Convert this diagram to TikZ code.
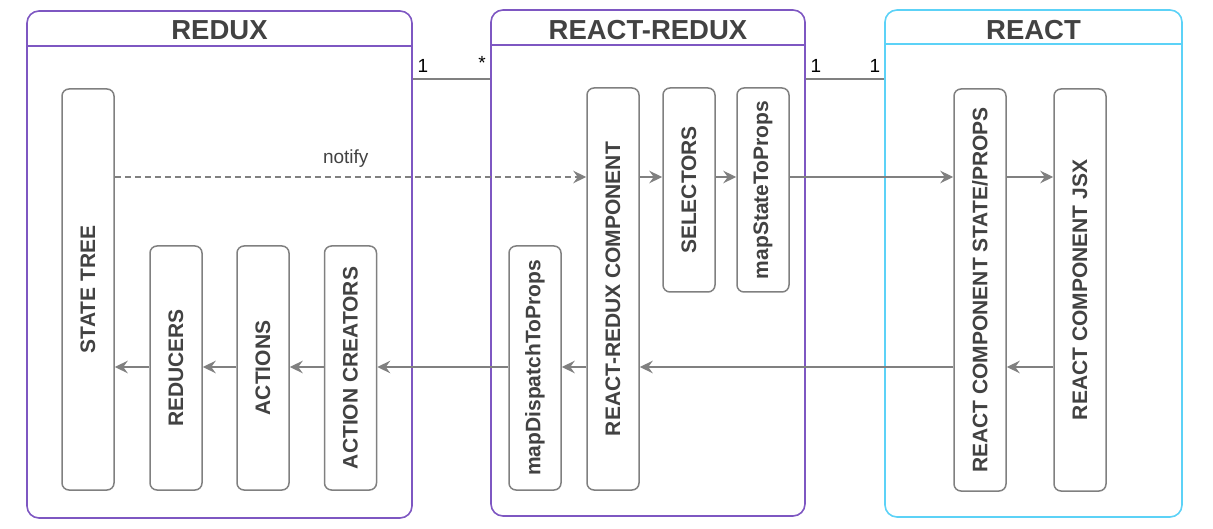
\documentclass[tikz,border=0pt]{standalone}
\usepackage{fontspec}
\setmainfont{Liberation Sans}
\usetikzlibrary{arrows.meta}
\definecolor{purp}{HTML}{7E57C2}
\definecolor{cyanb}{HTML}{5CD2F7}
\definecolor{boxg}{HTML}{808080}
\definecolor{txt}{HTML}{424242}
\begin{document}
\begin{tikzpicture}[x=1pt,y=-1pt,
  container/.style={draw=#1, line width=1.6pt, rounded corners=12pt, inner sep=0pt},
  title/.style={text=txt, font=\fontsize{27.5}{30}\selectfont\bfseries, inner sep=0pt},
  ibox/.style={draw=boxg, line width=1.5pt, rounded corners=7pt, fill=white, inner sep=0pt,
    text=txt, font=\fontsize{21}{24}\selectfont\bfseries, minimum width=52pt},
  arr/.style={draw=boxg, line width=1.5pt, -{Stealth[length=13pt,width=12.5pt,inset=4.5pt]}},
  assoc/.style={draw=boxg, line width=1.5pt},
  mult/.style={font=\fontsize{19}{22}\selectfont, inner sep=0pt, text=black}
]
\useasboundingbox (0,0) rectangle (1213,529);
\coordinate (ytop) at (0,177);
\coordinate (ybot) at (0,367);
\coordinate (yas) at (0,79);

% containers
\node[container=purp, minimum width=385pt, minimum height=507pt] (redux) at (219.5,264.5) {};
\draw[purp, line width=1.6pt] (27,46) -- (412,46);
\node[title] (tredux) at (219.5,30) {REDUX};

\node[container=purp, minimum width=314pt, minimum height=506pt] (rr) at (648,263) {};
\draw[purp, line width=1.6pt] (491,45) -- (805,45);
\node[title] (trr) at (648,30) {REACT-REDUX};

\node[container=cyanb, minimum width=297pt, minimum height=507pt] (react) at (1033.5,263.5) {};
\draw[cyanb, line width=1.6pt] (885,44) -- (1182,44);
\node[title] (treact) at (1033.5,30) {REACT};

% associations
\draw[assoc] (redux.east |- yas) -- (rr.west |- yas);
\node[mult] (m1) at (423,66) {1};
\node[mult] (m2) at (482,63) {*};
\draw[assoc] (rr.east |- yas) -- (react.west |- yas);
\node[mult] (m3) at (816,66) {1};
\node[mult] (m4) at (875,66) {1};

% inner boxes
\node[ibox, minimum height=401pt] (st) at (88,289.5) {\rotatebox{90}{STATE TREE}};
\node[ibox, minimum height=244pt] (red) at (176,368) {\rotatebox{90}{REDUCERS}};
\node[ibox, minimum height=244pt] (act) at (263,368) {\rotatebox{90}{ACTIONS}};
\node[ibox, minimum height=244pt] (ac) at (350.5,368) {\rotatebox{90}{ACTION CREATORS}};

\node[ibox, minimum height=244pt] (mdp) at (535,368) {\rotatebox{90}{mapDispatchToProps}};
\node[ibox, minimum height=402pt] (rrc) at (613,289) {\rotatebox{90}{REACT-REDUX COMPONENT}};
\node[ibox, minimum height=204pt] (sel) at (689,190) {\rotatebox{90}{SELECTORS}};
\node[ibox, minimum height=204pt] (msp) at (763,190) {\rotatebox{90}{mapStateToProps}};

\node[ibox, minimum height=402pt] (rcsp) at (980,290) {\rotatebox{90}{REACT COMPONENT STATE/PROPS}};
\node[ibox, minimum height=402pt] (jsx) at (1080,290) {\rotatebox{90}{REACT COMPONENT JSX}};

% top flow
\draw[arr, dash pattern=on 6pt off 4pt] (st.east |- ytop) -- node[above=9pt, font=\fontsize{19}{22}\selectfont, text=txt, inner sep=0pt, pos=0.49] (notify) {notify} (rrc.west |- ytop);
\draw[arr] (rrc.east |- ytop) -- (sel.west |- ytop);
\draw[arr] (sel.east |- ytop) -- (msp.west |- ytop);
\draw[arr] (msp.east |- ytop) -- (rcsp.west |- ytop);
\draw[arr] (rcsp.east |- ytop) -- (jsx.west |- ytop);

% bottom flow
\draw[arr] (jsx.west |- ybot) -- (rcsp.east |- ybot);
\draw[arr] (rcsp.west |- ybot) -- (rrc.east |- ybot);
\draw[arr] (rrc.west |- ybot) -- (mdp.east |- ybot);
\draw[arr] (mdp.west |- ybot) -- (ac.east |- ybot);
\draw[arr] (ac.west |- ybot) -- (act.east |- ybot);
\draw[arr] (act.west |- ybot) -- (red.east |- ybot);
\draw[arr] (red.west |- ybot) -- (st.east |- ybot);
\end{tikzpicture}
\end{document}
